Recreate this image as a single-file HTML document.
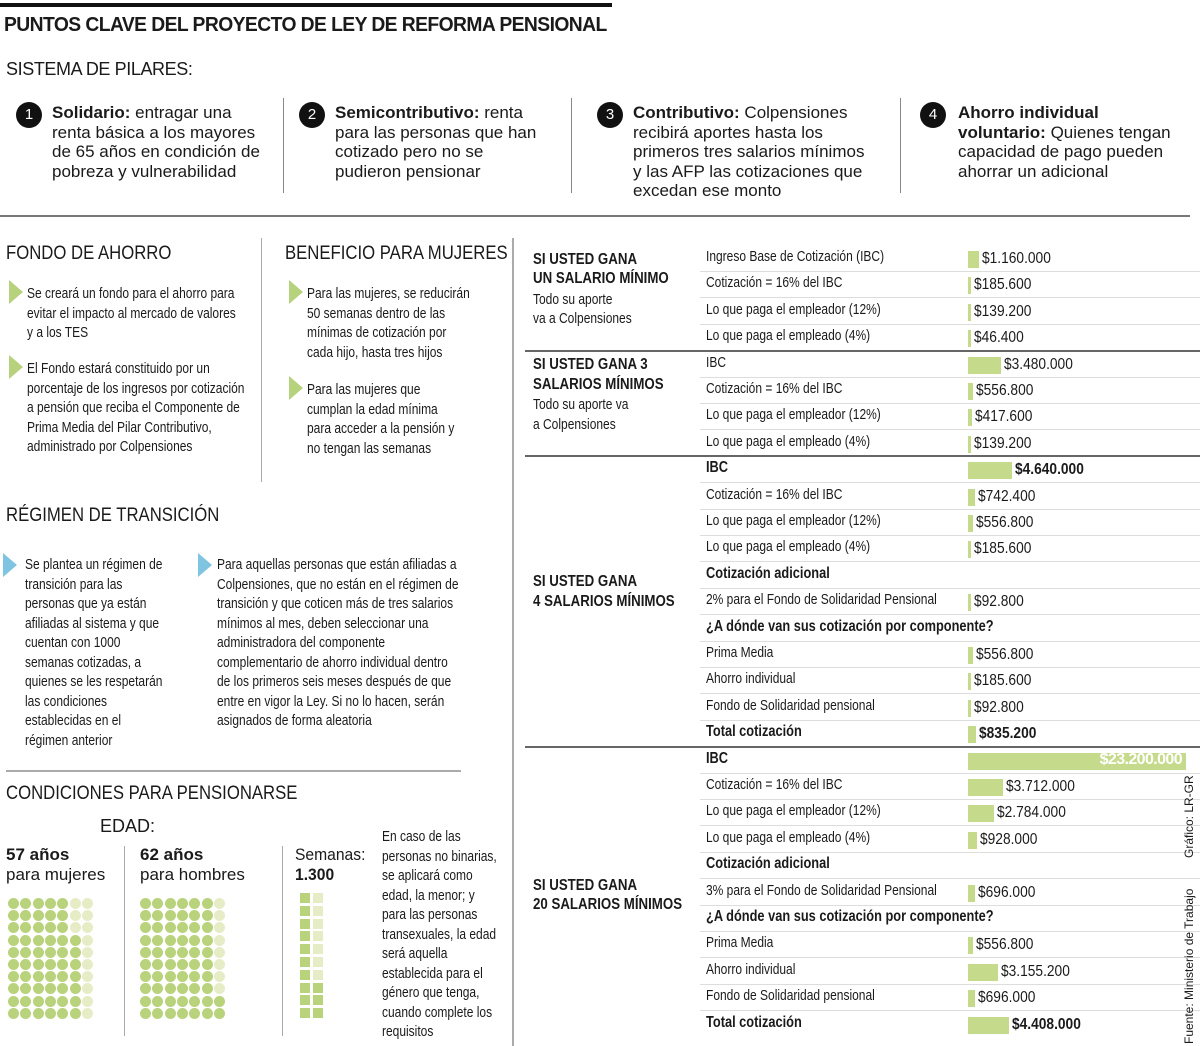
<!DOCTYPE html>
<html><head><meta charset="utf-8">
<style>
*{margin:0;padding:0;box-sizing:border-box}
body{width:1200px;height:1046px;background:#fff;position:relative;overflow:hidden;font-family:"Liberation Sans",sans-serif;color:#1a1a1a}
.a{position:absolute;white-space:nowrap}
.c{transform:scaleX(0.8);transform-origin:0 0}
.t{font-size:15px;line-height:19.5px}
.h{font-size:19px;transform:scaleX(0.88);transform-origin:0 0}
.tri{position:absolute;width:0;height:0;border-top:12px solid transparent;border-bottom:12px solid transparent;border-left:14px solid #b6d27c}
.tri.b{border-left-color:#7fc4e0}
.circ{position:absolute;width:26px;height:26px;border-radius:50%;background:#111;color:#fff;font:15px "Liberation Sans",sans-serif;text-align:center;line-height:26px}
.p{font-size:17px;line-height:19.5px}
.line{position:absolute;background:#888}
</style></head><body>
<div class="line" style="left:0;top:3px;width:612px;height:4px;background:#111"></div>
<div class="a" style="left:4px;top:14px;font-size:20px;font-weight:bold;letter-spacing:-0.6px;transform:scaleX(0.965);transform-origin:0 0">PUNTOS CLAVE DEL PROYECTO DE LEY DE REFORMA PENSIONAL</div>
<div class="a" style="left:6px;top:59px;font-size:18px;letter-spacing:-0.4px">SISTEMA DE PILARES:</div>

<div class="circ" style="left:16px;top:102px">1</div>
<div class="a p" style="left:52px;top:103px"><b>Solidario:</b> entragar una<br>renta básica a los mayores<br>de 65 años en condición de<br>pobreza y vulnerabilidad</div>
<div class="line" style="left:283px;top:98px;width:1px;height:95px"></div>
<div class="circ" style="left:299px;top:102px">2</div>
<div class="a p" style="left:335px;top:103px"><b>Semicontributivo:</b> renta<br>para las personas que han<br>cotizado pero no se<br>pudieron pensionar</div>
<div class="line" style="left:571px;top:98px;width:1px;height:95px"></div>
<div class="circ" style="left:597px;top:102px">3</div>
<div class="a p" style="left:633px;top:103px"><b>Contributivo:</b> Colpensiones<br>recibirá aportes hasta los<br>primeros tres salarios mínimos<br>y las AFP las cotizaciones que<br>excedan ese monto</div>
<div class="line" style="left:900px;top:98px;width:1px;height:95px"></div>
<div class="circ" style="left:920px;top:102px">4</div>
<div class="a p" style="left:958px;top:103px"><b>Ahorro individual<br>voluntario:</b> Quienes tengan<br>capacidad de pago pueden<br>ahorrar un adicional</div>
<div class="line" style="left:0;top:215px;width:1190px;height:2px;background:#777"></div>

<div class="a h" style="left:6px;top:243px">FONDO DE AHORRO</div>
<div class="tri" style="left:9px;top:280px"></div>
<div class="a t c" style="left:27px;top:284px">Se creará un fondo para el ahorro para<br>evitar el impacto al mercado de valores<br>y a los TES</div>
<div class="tri" style="left:9px;top:355px"></div>
<div class="a t c" style="left:27px;top:359px">El Fondo estará constituido por un<br>porcentaje de los ingresos por cotización<br>a pensión que reciba el Componente de<br>Prima Media del Pilar Contributivo,<br>administrado por Colpensiones</div>
<div class="line" style="left:261px;top:238px;width:1px;height:244px;background:#aaa"></div>
<div class="a h" style="left:285px;top:243px">BENEFICIO PARA MUJERES</div>
<div class="tri" style="left:289px;top:280px"></div>
<div class="a t c" style="left:307px;top:284px">Para las mujeres, se reducirán<br>50 semanas dentro de las<br>mínimas de cotización por<br>cada hijo, hasta tres hijos</div>
<div class="tri" style="left:289px;top:376px"></div>
<div class="a t c" style="left:307px;top:380px">Para las mujeres que<br>cumplan la edad mínima<br>para acceder a la pensión y<br>no tengan las semanas</div>

<div class="a h" style="left:6px;top:505px">RÉGIMEN DE TRANSICIÓN</div>
<div class="tri b" style="left:3px;top:553px"></div>
<div class="a t c" style="left:25px;top:555px">Se plantea un régimen de<br>transición para las<br>personas que ya están<br>afiliadas al sistema y que<br>cuentan con 1000<br>semanas cotizadas, a<br>quienes se les respetarán<br>las condiciones<br>establecidas en el<br>régimen anterior</div>
<div class="tri b" style="left:198px;top:553px"></div>
<div class="a t c" style="left:217px;top:555px">Para aquellas personas que están afiliadas a<br>Colpensiones, que no están en el régimen de<br>transición y que coticen más de tres salarios<br>mínimos al mes, deben seleccionar una<br>administradora del componente<br>complementario de ahorro individual dentro<br>de los primeros seis meses después de que<br>entre en vigor la Ley. Si no lo hacen, serán<br>asignados de forma aleatoria</div>
<div class="line" style="left:6px;top:770px;width:455px;height:2px;background:#aaa"></div>

<div class="a h" style="left:6px;top:783px">CONDICIONES PARA PENSIONARSE</div>
<div class="a" style="left:100px;top:816px;font-size:18px">EDAD:</div>
<div class="a" style="left:6px;top:845px;font-size:17px;line-height:20px"><b>57 años</b><br>para mujeres</div>
<div class="line" style="left:124px;top:846px;width:1px;height:190px;background:#aaa"></div>
<div class="a" style="left:140px;top:845px;font-size:17px;line-height:20px"><b>62 años</b><br>para hombres</div>
<div class="line" style="left:282px;top:846px;width:1px;height:190px;background:#aaa"></div>
<div class="a" style="left:295px;top:845px;font-size:17px;line-height:20px;transform:scaleX(0.92);transform-origin:0 0">Semanas:<br><b>1.300</b></div>
<div class="a t c" style="left:382px;top:827px">En caso de las<br>personas no binarias,<br>se aplicará como<br>edad, la menor; y<br>para las personas<br>transexuales, la edad<br>será aquella<br>establecida para el<br>género que tenga,<br>cuando complete los<br>requisitos</div>
<div id="dots"></div>

<div class="line" style="left:512px;top:238px;width:2px;height:808px;background:#aaa"></div>
<div id="table"></div>
<div class="a" style="left:1182px;top:858px;font-size:12px;transform:rotate(-90deg);transform-origin:0 0">Gráfico: LR-GR</div>
<div class="a" style="left:1182px;top:1044px;font-size:12px;transform:rotate(-90deg);transform-origin:0 0">Fuente: Ministerio de Trabajo</div>

<script>
const mujeresAge = 57;
const hombresAge = 62;
const semanas = 1300;

const labels = ["Ingreso Base de Cotización (IBC)","Cotización = 16% del IBC","Lo que paga el empleador (12%)","Lo que paga el empleado (4%)",
"IBC","Cotización = 16% del IBC","Lo que paga el empleador (12%)","Lo que paga el empleado (4%)",
"IBC","Cotización = 16% del IBC","Lo que paga el empleador (12%)","Lo que paga el empleado (4%)","Cotización adicional","2% para el Fondo de Solidaridad Pensional","¿A dónde van sus cotización por componente?","Prima Media","Ahorro individual","Fondo de Solidaridad pensional","Total cotización",
"IBC","Cotización = 16% del IBC","Lo que paga el empleador (12%)","Lo que paga el empleado (4%)","Cotización adicional","3% para el Fondo de Solidaridad Pensional","¿A dónde van sus cotización por componente?","Prima Media","Ahorro individual","Fondo de Solidaridad pensional","Total cotización"];
const values = [1160000,185600,139200,46400,
3480000,556800,417600,139200,
4640000,742400,556800,185600,null,92800,null,556800,185600,92800,835200,
23200000,3712000,2784000,928000,null,696000,null,556800,3155200,696000,4408000];
const boldRows = [8,12,14,18,19,23,25,29];
const sectionTitles = [["SI USTED GANA","UN SALARIO MÍNIMO"],["SI USTED GANA 3","SALARIOS MÍNIMOS"],["SI USTED GANA","4 SALARIOS MÍNIMOS"],["SI USTED GANA","20 SALARIOS MÍNIMOS"]];
const sectionSubs = [["Todo su aporte","va a Colpensiones"],["Todo su aporte va","a Colpensiones"],[],[]];
const sectionStart = [0,4,8,19];
const sectionEnd = [4,8,19,30];

function fmt(v){return "$"+v.toString().replace(/\B(?=(\d{3})+(?!\d))/g,".");}
const rowH = 26.4, rowY0 = 258, barX = 968, maxV = 23200000, maxW = 218;
const yOf = i => rowY0 + i*rowH;
const xw = v => Math.max(3, v/maxV*maxW);
const SC = 'transform:scaleX(0.8);transform-origin:0 0;';
const SV = 'transform:scaleX(0.86);transform-origin:0 0;';

const T = document.getElementById('table');
function add(parent, css, html){const d=document.createElement('div');d.className='a';d.style.cssText=css;if(html!=null)d.innerHTML=html;parent.appendChild(d);return d;}

labels.forEach((lab,i)=>{
  const y=yOf(i);
  const bold=boldRows.includes(i);
  const l=add(T,`left:706px;top:${y-10}px;font-size:${bold?16:15}px;${bold?'font-weight:bold;':''}${SC}`,lab);
  
  
  const isLast = sectionEnd.includes(i+1);
  if(!isLast){
    const s=add(T,`left:700px;top:${y+13}px;width:500px;height:1px;background:#ddd`);
    
    
  }
  const v=values[i];
  if(v!=null){
    const w=xw(v);
    const b=add(T,`left:${barX}px;top:${y-7}px;width:${w}px;height:17px;background:#c6da8c`);
    
    
    if(v===maxV){
      const t=add(T,`left:${barX}px;top:${y-9}px;width:${w-4}px;text-align:right;color:#fff;font-size:16px;font-weight:bold;letter-spacing:-0.6px`,fmt(v));
      
      
    } else {
      const t=add(T,`left:${barX+w+3}px;top:${y-8}px;font-size:16px;${bold?'font-weight:bold;':''}${SV}`,fmt(v));
      
      
    }
  }
});
const titleOffsets=[0,0,-9,4];
sectionTitles.forEach((tt,k)=>{
  const s=sectionStart[k], e=sectionEnd[k];
  const mid=(yOf(s)+yOf(e-1))/2;
  const sub=sectionSubs[k];
  const top = mid - (sub.length? 46:20) + (k<2?-2:0) + titleOffsets[k];
  const d=add(T,`left:533px;top:${top}px;font-size:16px;line-height:19.5px;font-weight:bold;transform:scaleX(0.83);transform-origin:0 0`,tt.join('<br>'));
  
  
  if(sub.length){
    const d2=add(T,`left:533px;top:${top+40}px;font-size:15px;line-height:19.5px;${SC}`,sub.join('<br>'));
    
    
  }
  if(k>0){
    const ln=add(T,`left:525px;top:${yOf(s)-14}px;width:675px;height:2px;background:#666`);
    
    
  }
});

const D=document.getElementById('dots');
function waffle(x0,count,cols){
  for(let r=0;r<10;r++){
    for(let c=0;c<cols;c++){
      const idx = c*10 + (9-r);
      const e=document.createElement('div');
      e.className='a';
      e.style.cssText=`left:${x0+c*12.3}px;top:${898+r*12.2}px;width:11px;height:11px;border-radius:50%;background:${idx<count?'#b9d27c':'#e6edc6'}`;
      
      
      D.appendChild(e);
    }
  }
}
waffle(8,mujeresAge,7);
waffle(140,hombresAge,7);
const sq=Math.round(semanas/100);
for(let r=0;r<10;r++){for(let c=0;c<2;c++){
  const idx=c*10+(9-r);
  const e=document.createElement('div');
  e.className='a';
  e.style.cssText=`left:${300+c*13}px;top:${893+r*12.8}px;width:10px;height:10px;background:${idx<sq?'#b9d27c':'#e6edc6'}`;
  
  
  D.appendChild(e);
}}
</script>
</body></html>
